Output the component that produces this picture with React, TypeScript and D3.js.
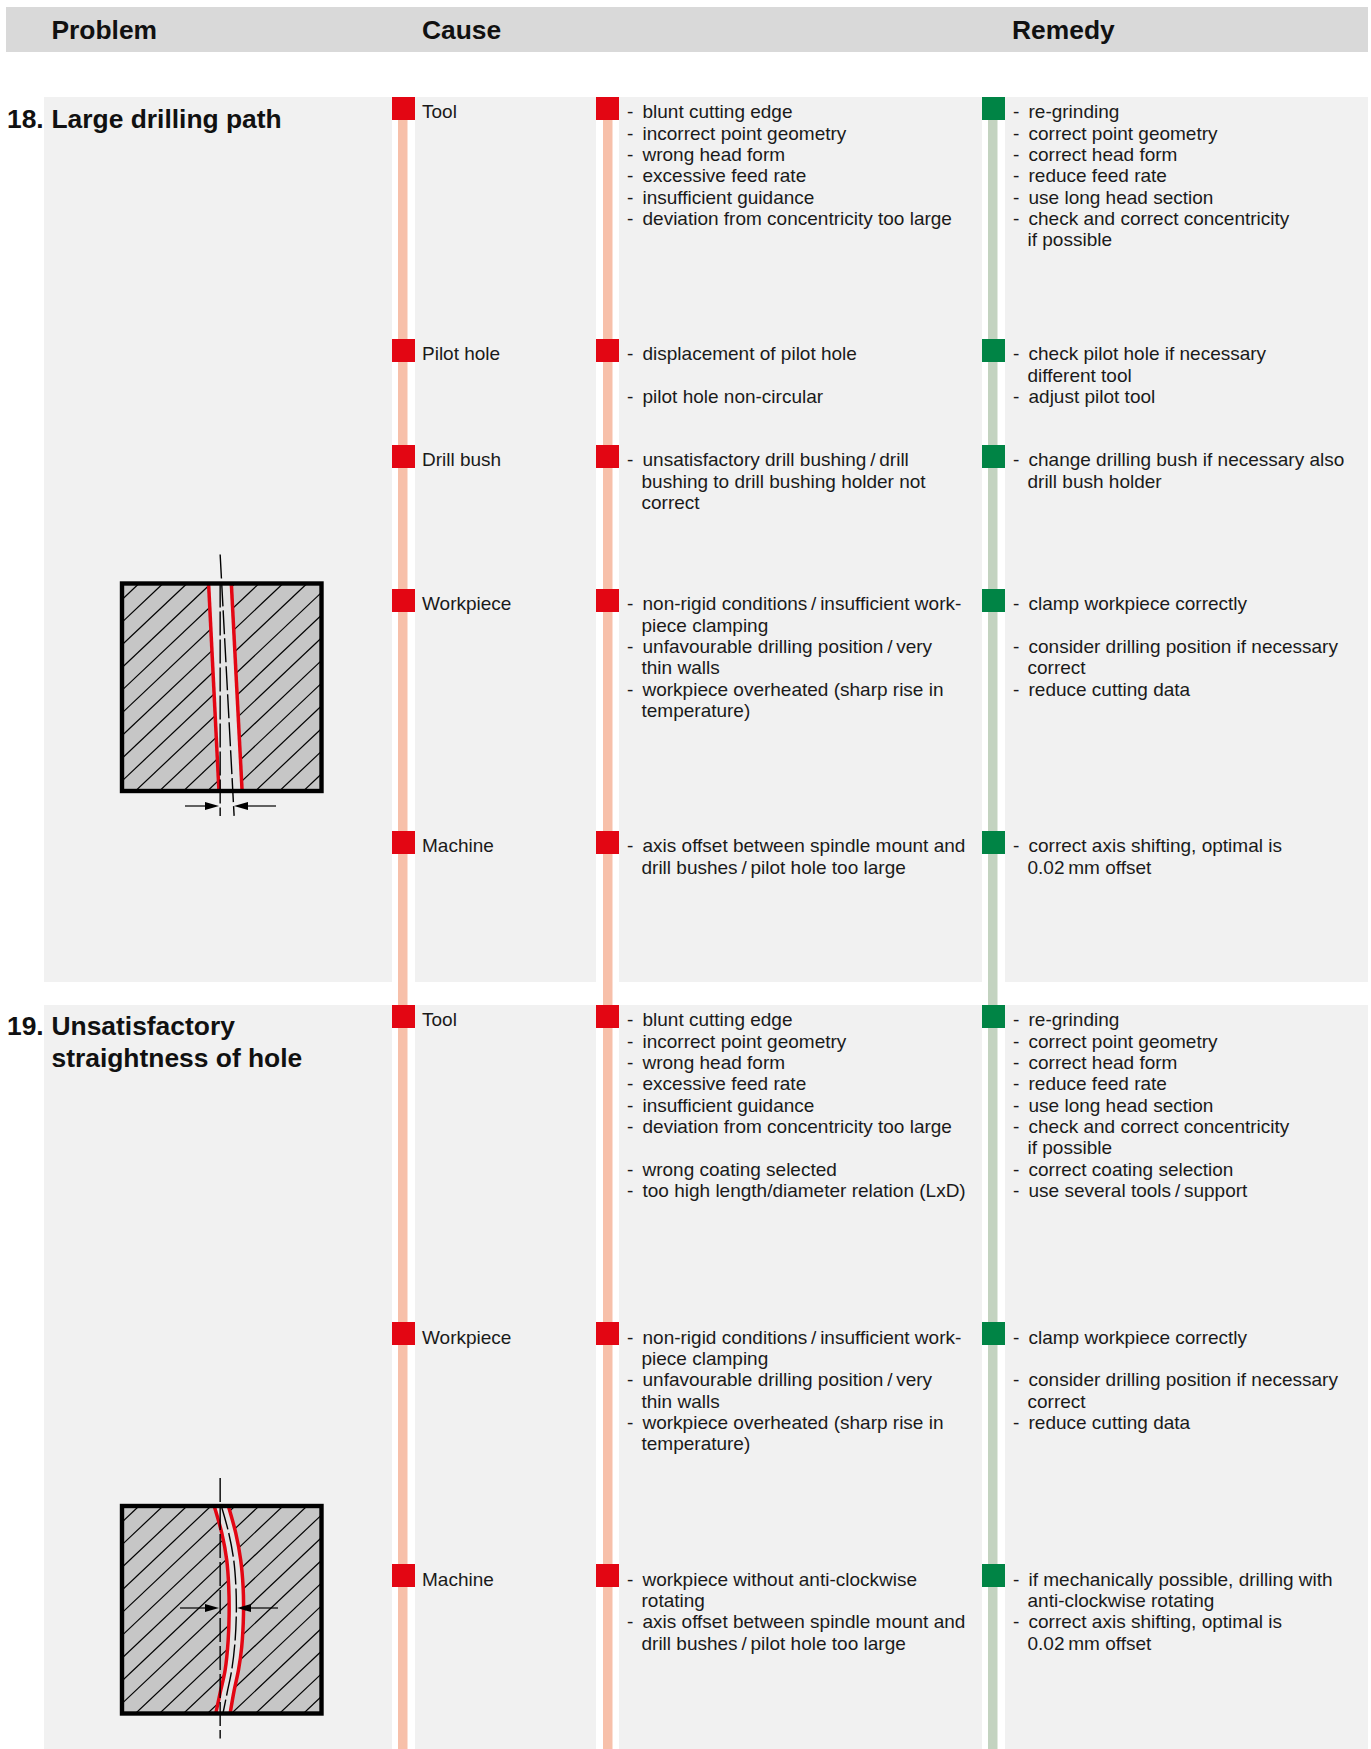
import React from 'react';
import * as d3 from 'd3';

// Table content, each section has rows of [group, causes, remedies]
const headers = ['Problem', 'Cause', 'Remedy'];

const toolCauses = ['- blunt cutting edge', '- incorrect point geometry', '- wrong head form', '- excessive feed rate', '- insufficient guidance', '- deviation from concentricity too large'];
const toolRemedies = ['- re-grinding', '- correct point geometry', '- correct head form', '- reduce feed rate', '- use long head section', '- check and correct concentricity', 'if possible'];
const workCauses = ['- non-rigid conditions\u2009/\u2009insufficient work-', 'piece clamping', '- unfavourable drilling position\u2009/\u2009very', 'thin walls', '- workpiece overheated (sharp rise in', 'temperature)'];
const workRemedies = ['- clamp workpiece correctly', '', '- consider drilling position if necessary', 'correct', '- reduce cutting data'];
const axisCauses = ['- axis offset between spindle mount and', 'drill bushes\u2009/\u2009pilot hole too large'];
const axisRemedies = ['- correct axis shifting, optimal is', '0.02\u2009mm offset'];

const rows18 = [
  { group: 'Tool', causes: toolCauses, remedies: toolRemedies },
  { group: 'Pilot hole', causes: ['- displacement of pilot hole', '', '- pilot hole non-circular'], remedies: ['- check pilot hole if necessary', 'different tool', '- adjust pilot tool'] },
  { group: 'Drill bush', causes: ['- unsatisfactory drill bushing\u2009/\u2009drill', 'bushing to drill bushing holder not', 'correct'], remedies: ['- change drilling bush if necessary also', 'drill bush holder'] },
  { group: 'Workpiece', causes: workCauses, remedies: workRemedies },
  { group: 'Machine', causes: axisCauses, remedies: axisRemedies },
];
const rows19 = [
  { group: 'Tool', causes: [...toolCauses, '', '- wrong coating selected', '- too high length/diameter relation (LxD)'], remedies: [...toolRemedies, '- correct coating selection', '- use several tools\u2009/\u2009support'] },
  { group: 'Workpiece', causes: workCauses, remedies: workRemedies },
  { group: 'Machine', causes: ['- workpiece without anti-clockwise', 'rotating', ...axisCauses], remedies: ['- if mechanically possible, drilling with', 'anti-clockwise rotating', ...axisRemedies] },
];
const rowTops18 = [97, 339, 445, 589, 831];
const rowTops19 = [1005, 1322.4, 1564.4];

// Hole outlines in percent of the workpiece box
const straightLeft: [number, number][] = [[43.4, 0], [48.6, 100]];
const straightRight: [number, number][] = [[54.8, 0], [60.2, 100]];
const straightAxis: [number, number][] = [[49.2, -14], [56.2, 112]];
const bentLeft: [number, number][] = [[46.2, 0], [50, 13], [52.5, 26], [53.5, 39], [53.7, 52], [53.2, 65], [51.7, 79], [49.2, 90], [47, 100]];
const bentRight: [number, number][] = [[53.3, 0], [57, 13], [59.5, 26], [60.7, 39], [60.9, 52], [60, 68], [58.4, 79], [56.2, 89], [54.2, 100]];
const bentAxis: [number, number][] = [[49.8, 0], [53.5, 13], [56, 26], [57.1, 39], [57.3, 52], [56.6, 66], [55, 79], [52.7, 90], [50.6, 100]];

const FONT = '"Liberation Sans", Arial, sans-serif';
const RED = '#e30613';
const GREEN = '#008445';
const LINE_H = 21.35;
const TEXT_SIZE = 19;

const Lines = ({ lines, x, top }: { lines: string[]; x: number; top: number }) => (
  <g fontSize={TEXT_SIZE} fill="#1a1a1a">
    {lines.map((l, i) => {
      const y = top + 21.3 + i * LINE_H;
      if (!l) return null;
      if (l.startsWith('- ')) {
        return (
          <g key={i}>
            <text x={x} y={y}>-</text>
            <text x={x + 15.5} y={y}>{l.slice(2)}</text>
          </g>
        );
      }
      return <text key={i} x={x + 14.5} y={y}>{l}</text>;
    })}
  </g>
);

const Section = ({ rows, tops }: { rows: typeof rows18; tops: number[] }) => (
  <>
    {rows.map((r, i) => {
      const squareY = Math.round(tops[i]);
      return (
        <g key={i}>
          <rect x={392} y={squareY} width={23} height={23} fill={RED} />
          <rect x={596} y={squareY} width={23} height={23} fill={RED} />
          <rect x={982} y={squareY} width={23} height={23} fill={GREEN} />
          <text x={422} y={tops[i] + 21.3} fontSize={TEXT_SIZE} fill="#1a1a1a">{r.group}</text>
          <Lines lines={r.causes} x={627} top={tops[i]} />
          <Lines lines={r.remedies} x={1013} top={tops[i]} />
        </g>
      );
    })}
  </>
);

const Arrow = ({ from, tip, y }: { from: number; tip: number; y: number }) => {
  const dir = Math.sign(tip - from);
  return (
    <g>
      <line x1={from} x2={tip - dir * 10} y1={y} y2={y} stroke="#000" strokeWidth={1.2} />
      <path d={`M${tip},${y}L${tip - dir * 14},${y - 4}V${y + 4}Z`} fill="#000" />
    </g>
  );
};

const Drawing = ({ id, top, left, right, axis, vTop, curve, arrows }: {
  id: string; top: number; left: [number, number][]; right: [number, number][]; axis: [number, number][];
  vTop: number; curve: d3.CurveFactory; arrows: { y: number; from: number; tip: number }[];
}) => {
  const sx = d3.scaleLinear().domain([0, 100]).range([122, 321.5]);
  const sy = d3.scaleLinear().domain([0, 100]).range([top, top + 207.5]);
  const line = d3.line<[number, number]>().x(d => sx(d[0])).y(d => sy(d[1])).curve(curve);
  const outline = `${line(left)}L${line([...right].reverse())!.slice(1)}Z`;
  const pitch = 24;
  const slope = 0.945;
  const hatch = d3.range(-10, 17).map(k => 139 + k * pitch);
  return (
    <g>
      <clipPath id={id}><rect x={122} y={top} width={199.5} height={207.5} /></clipPath>
      <rect x={122} y={top} width={199.5} height={207.5} fill="#c6c6c6" />
      <g clipPath={`url(#${id})`} stroke="#000" strokeWidth={1.2}>
        {hatch.map(x0 => (
          <line key={x0} x1={x0} y1={top} x2={x0 - 260} y2={top + 260 * slope} />
        ))}
        <path d={outline} fill="#e4e4e4" stroke="none" />
      </g>
      <g clipPath={`url(#${id})`} fill="none" stroke={RED} strokeWidth={3.5}>
        <path d={line(left)!} />
        <path d={line(right)!} />
      </g>
      <path d={line(axis)!} fill="none" stroke="#000" strokeWidth={1.4} strokeDasharray="24 4" />
      <line x1={sx(49.2)} x2={sx(49.2)} y1={sy(vTop)} y2={sy(112)} stroke="#000" strokeWidth={1.4} strokeDasharray="24 4" />
      <rect x={122} y={top} width={199.5} height={207.5} fill="none" stroke="#000" strokeWidth={4.4} />
      {arrows.map((a, i) => <Arrow key={i} {...a} />)}
    </g>
  );
};

export default function App() {
  return (
    <svg width={1371} height={1749} viewBox="0 0 1371 1749" fontFamily={FONT}
      style={{ position: 'absolute', left: 0, top: 0, display: 'block' }}>
      <rect width={1371} height={1749} fill="#fff" />
      <rect x={6} y={7} width={1362} height={45} fill="#d9d9d9" />
      {headers.map((h, i) => (
        <text key={h} x={[51.5, 422, 1012][i]} y={39} fontSize={26.4} fontWeight="bold" fill="#111">{h}</text>
      ))}

      {[[97, 885], [1005, 744]].map(([y, h]) => (
        <g key={y} fill="#f1f1f1">
          <rect x={44} y={y} width={348} height={h} />
          <rect x={415} y={y} width={181} height={h} />
          <rect x={619} y={y} width={363} height={h} />
          <rect x={1005} y={y} width={363} height={h} />
        </g>
      ))}
      <rect x={398} y={97} width={9.5} height={1652} fill="#f7c0aa" />
      <rect x={603} y={97} width={9.5} height={1652} fill="#f7c0aa" />
      <rect x={988} y={97} width={9.5} height={1652} fill="#c3d3c0" />

      <g fontSize={26.4} fontWeight="bold" fill="#111">
        <text x={7} y={128}>18.</text>
        <text x={51.5} y={128}>Large drilling path</text>
        <text x={7} y={1035}>19.</text>
        <text x={51.5} y={1035}>Unsatisfactory</text>
        <text x={51.5} y={1067}>straightness of hole</text>
      </g>

      <Section rows={rows18} tops={rowTops18} />
      <Section rows={rows19} tops={rowTops19} />

      <Drawing id="clip18" top={583.5} left={straightLeft} right={straightRight} axis={straightAxis} vTop={0}
        curve={d3.curveLinear} arrows={[{ y: 806, from: 185, tip: 219 }, { y: 806, from: 276, tip: 234 }]} />
      <Drawing id="clip19" top={1506} left={bentLeft} right={bentRight} axis={bentAxis} vTop={-13.5}
        curve={d3.curveCatmullRom} arrows={[{ y: 1608, from: 180, tip: 219 }, { y: 1608, from: 278, tip: 237 }]} />
    </svg>
  );
}
